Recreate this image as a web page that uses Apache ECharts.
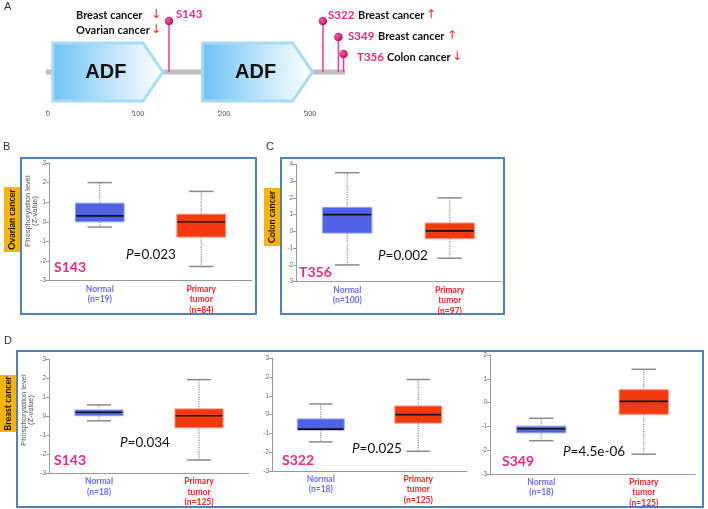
<!DOCTYPE html>
<html><head><meta charset="utf-8">
<script src="https://cdn.jsdelivr.net/npm/echarts@6/dist/echarts.min.js"></script>
<style>html,body{margin:0;padding:0;background:#fff}#c{width:708px;height:509px}</style>
</head><body><div id="c"></div>
<script>
// ---------- Panel A data (protein diagram) ----------
const proteinLength = 348;
const domainNames = ['ADF', 'ADF'];
const domainStarts = [8, 182];
const domainEnds = [136, 310];
const siteNames = ['S143', 'S322', 'S349', 'T356'];
const sitePositions = [143, 322, 340, 346];
const siteLevels = [89, 89, 73, 56];
const backboneLevel = 38;

// ---------- Boxplot data: [lower whisker, Q1, median, Q3, upper whisker] ----------
const groupNames = ['Normal', 'Primary tumor'];
const ovarianS143Normal = [-0.27, 0, 0.3, 0.95, 2.0];
const ovarianS143Tumor = [-2.28, -0.78, 0, 0.39, 1.55];
const ovarianS143Counts = [19, 84];
const colonT356Normal = [-2.0, -0.1, 1.0, 1.43, 3.5];
const colonT356Tumor = [-1.6, -0.43, 0.03, 0.5, 2.0];
const colonT356Counts = [100, 97];
const breastS143Normal = [-0.24, 0.03, 0.21, 0.33, 0.6];
const breastS143Tumor = [-2.3, -0.6, 0.03, 0.39, 1.93];
const breastS322Normal = [-1.45, -0.82, -0.77, -0.23, 0.57];
const breastS322Tumor = [-1.95, -0.45, 0, 0.46, 1.87];
const breastS349Normal = [-1.6, -1.27, -1.1, -0.99, -0.66];
const breastS349Tumor = [-2.17, -0.49, 0.05, 0.54, 1.4];
const breastCounts = [18, 125];
const yRangeB = [-3, 3];
const yRangeC = [-3, 4];
const yRangeD1 = [-3, 3];
const yRangeD2 = [-3, 3];
const yRangeD3 = [-3, 2];
const pValues = ['0.023', '0.002', '0.034', '0.025', '4.5e-06'];

// ---------- layout ----------
const FONT = 'Lato';
const boxPanels = [
  {grid: {left: 49, top: 163, width: 203, height: 117.6}, range: yRangeB, normal: ovarianS143Normal, tumor: ovarianS143Tumor, counts: ovarianS143Counts},
  {grid: {left: 296, top: 164.3, width: 205, height: 117.4}, range: yRangeC, normal: colonT356Normal, tumor: colonT356Tumor, counts: colonT356Counts},
  {grid: {left: 49, top: 359.3, width: 200, height: 114}, range: yRangeD1, normal: breastS143Normal, tumor: breastS143Tumor, counts: breastCounts},
  {grid: {left: 272, top: 358.3, width: 195, height: 112.7}, range: yRangeD2, normal: breastS322Normal, tumor: breastS322Tumor, counts: breastCounts},
  {grid: {left: 490, top: 355, width: 205, height: 119}, range: yRangeD3, normal: breastS349Normal, tumor: breastS349Tumor, counts: breastCounts}
];

const grids = [{left: 46, top: 10, width: proteinLength * 0.86, height: 100, outerBoundsMode: 'none'}];
const xAxes = [{
  type: 'value', gridIndex: 0, min: 0, max: proteinLength, interval: 100,
  axisLine: {show: false}, splitLine: {show: false}, position: 'bottom',
  axisTick: {show: true, length: 3, inside: false, lineStyle: {color: '#999', width: 1}},
  axisLabel: {show: true, showMaxLabel: false, fontSize: 7.5, color: '#555', fontFamily: 'Liberation Sans', align: 'left', margin: 0, padding: [0, 0, 0, 0]}
}];
const yAxes = [{type: 'value', gridIndex: 0, min: 0, max: 100, show: false}];

const fills = ['#5063e6', '#f5390f'];
const strokes = ['#8e9cf2', '#ff8d72'];

function boxRender(params, api) {
  const cat = api.value(0);
  const lo = api.coord([cat, api.value(1)]);
  const q1 = api.coord([cat, api.value(2)]);
  const md = api.coord([cat, api.value(3)]);
  const q3 = api.coord([cat, api.value(4)]);
  const hi = api.coord([cat, api.value(5)]);
  const band = api.size([1, 0])[0];
  const bw = band * 0.48, cw = band * 0.24;
  const x = lo[0];
  const wl = {stroke: '#8a8a8a', lineWidth: 1.2, lineDash: [1.2, 1.2]};
  const cap = {stroke: '#8a8a8a', lineWidth: 1.5};
  return {type: 'group', children: [
    {type: 'line', shape: {x1: x, y1: hi[1], x2: x, y2: q3[1]}, style: wl},
    {type: 'line', shape: {x1: x, y1: q1[1], x2: x, y2: lo[1]}, style: wl},
    {type: 'line', shape: {x1: x - cw / 2, y1: hi[1], x2: x + cw / 2, y2: hi[1]}, style: cap},
    {type: 'line', shape: {x1: x - cw / 2, y1: lo[1], x2: x + cw / 2, y2: lo[1]}, style: cap},
    {type: 'rect', shape: {x: x - bw / 2, y: q3[1], width: bw, height: q1[1] - q3[1]}, style: {fill: fills[cat], stroke: strokes[cat], lineWidth: 1}},
    {type: 'line', shape: {x1: x - bw / 2 + 0.5, y1: md[1], x2: x + bw / 2 - 0.5, y2: md[1]}, style: {stroke: '#111', lineWidth: 1.6}}
  ]};
}

const series = [];

// Panel A series
series.push({
  type: 'custom', xAxisIndex: 0, yAxisIndex: 0, silent: true, z: 1,
  data: [[0, proteinLength, backboneLevel]],
  encode: {x: [0, 1], y: 2},
  renderItem: function (params, api) {
    const a = api.coord([api.value(0), api.value(2)]);
    const b = api.coord([api.value(1), api.value(2)]);
    return {type: 'rect', shape: {x: a[0], y: a[1] - 2.5, width: b[0] - a[0], height: 5}, style: {fill: '#bdbdbd'}};
  }
});
series.push({
  type: 'custom', xAxisIndex: 0, yAxisIndex: 0, silent: true, z: 3,
  data: domainStarts.map((s, i) => [s, domainEnds[i], backboneLevel, domainNames[i]]),
  encode: {x: [0, 1], y: 2},
  renderItem: function (params, api) {
    const a = api.coord([api.value(0), api.value(2)]);
    const b = api.coord([api.value(1), api.value(2)]);
    const h = 29, sh = 20;
    const x0 = a[0], xt = b[0], yc = a[1], xs = xt - sh;
    return {type: 'group', children: [
      {type: 'polygon', shape: {points: [[x0, yc - h], [xs, yc - h], [xt, yc], [xs, yc + h], [x0, yc + h]]},
        style: {fill: new echarts.graphic.LinearGradient(0, 0, 1, 0, [{offset: 0, color: '#6cc2f4'}, {offset: 0.55, color: '#c0e5fa'}, {offset: 1, color: '#ffffff'}]),
          stroke: '#a6dbf7', lineWidth: 3}},
      {type: 'text', x: (x0 + xt) / 2 - 2, y: yc, style: {text: api.value(3), fontFamily: 'Liberation Sans', fontWeight: 'bold', fontSize: 20, fill: '#111', align: 'center', verticalAlign: 'middle'}}
    ]};
  }
});
series.push({
  type: 'custom', xAxisIndex: 0, yAxisIndex: 0, silent: true, z: 4,
  data: sitePositions.map((p, i) => [p, siteLevels[i], backboneLevel]),
  encode: {x: 0, y: [1, 2]},
  renderItem: function (params, api) {
    const top = api.coord([api.value(0), api.value(1)]);
    const bot = api.coord([api.value(0), api.value(2)]);
    return {type: 'group', children: [
      {type: 'line', shape: {x1: top[0], y1: top[1], x2: bot[0], y2: bot[1]}, style: {stroke: '#ff3399', lineWidth: 1.5}},
      {type: 'circle', shape: {cx: top[0], cy: top[1], r: 4.3},
        style: {fill: new echarts.graphic.RadialGradient(0.35, 0.35, 0.7, [{offset: 0, color: '#f25aa5'}, {offset: 1, color: '#b5105f'}])}}
    ]};
  }
});

// Box panels
boxPanels.forEach((p, k) => {
  const gi = k + 1;
  grids.push(Object.assign({outerBoundsMode: 'none'}, p.grid));
  const counts = p.counts;
  xAxes.push({
    type: 'category', gridIndex: gi, data: groupNames, boundaryGap: true,
    axisLine: {show: true, onZero: false, lineStyle: {color: '#9a9a9a', width: 1}},
    axisTick: {show: false},
    axisLabel: {
      interval: 0, margin: 3, fontSize: 8.5, lineHeight: 10.5,
      formatter: function (v, i) {
        const words = v.split(' ');
        const st = i === 0 ? 'n' : 't';
        return words.concat(['(n=' + counts[i] + ')']).map(w => '{' + st + '|' + w + '}').join('\n');
      },
      rich: {
        n: {color: '#6b6cf2', fontWeight: 'bold', fontSize: 8.5, fontFamily: FONT, lineHeight: 10.5},
        t: {color: '#ff2424', fontWeight: 'bold', fontSize: 8.5, fontFamily: FONT, lineHeight: 10.5}
      }
    }
  });
  yAxes.push({
    type: 'value', gridIndex: gi, min: p.range[0], max: p.range[1], interval: 1,
    axisLine: {show: true, onZero: false, lineStyle: {color: '#9a9a9a', width: 1}},
    axisTick: {show: true, length: 3, lineStyle: {color: '#9a9a9a'}},
    axisLabel: {fontSize: 6.5, color: '#666', margin: 3, fontFamily: 'Liberation Sans'},
    splitLine: {show: false}
  });
  series.push({
    type: 'custom', xAxisIndex: gi, yAxisIndex: gi, silent: true,
    encode: {x: 0, y: [1, 2, 3, 4, 5]},
    data: [[0].concat(p.normal), [1].concat(p.tumor)],
    renderItem: boxRender
  });
});

// ---------- graphic (frames and text) ----------
const G = [];
function T(x, y, text, st, extra) {
  G.push(Object.assign({type: 'text', x: x, y: y, silent: true, z: 10,
    style: Object.assign({text: text, fill: '#111', fontFamily: FONT, fontSize: 11, align: 'left', verticalAlign: 'middle'}, st || {})}, extra || {}));
}
function R(x, y, w, h, st) {
  G.push({type: 'rect', silent: true, z: 0, shape: {x: x, y: y, width: w, height: h}, style: st});
}
const PINK = '#f0287a', RED = '#ff1f1f';
// panel letters
T(4, 7, 'A', {fontFamily: 'Liberation Sans', fontSize: 11, fill: '#333'});
T(3, 147, 'B', {fontFamily: 'Liberation Sans', fontSize: 11, fill: '#333'});
T(266, 147, 'C', {fontFamily: 'Liberation Sans', fontSize: 11, fill: '#333'});
T(4, 341, 'D', {fontFamily: 'Liberation Sans', fontSize: 11, fill: '#333'});
// panel A annotations
const bold = {fontWeight: 'bold', fontSize: 11};
const SA = {fill: PINK, fontWeight: 'bold', fontSize: 11.5};
const ARW = {fill: RED, fontFamily: 'DejaVu Sans', fontSize: 12};
T(76, 15, 'Breast cancer', bold);
T(76, 30, 'Ovarian cancer', bold);
T(151, 15, '↓', ARW);
T(151, 30, '↓', ARW);
T(176, 14, siteNames[0], SA);
T(328, 15, siteNames[1], SA);
T(358, 15, 'Breast cancer', bold);
T(426, 15, '↑', ARW);
T(348, 36, siteNames[2], SA);
T(378, 36, 'Breast cancer', bold);
T(447, 36, '↑', ARW);
T(357, 57, siteNames[3], SA);
T(387, 57, 'Colon cancer', bold);
T(452, 57, '↓', ARW);
// frames
const FR = {fill: 'none', stroke: '#4f81bd', lineWidth: 2};
R(21, 158, 235, 156, FR);
R(281, 158, 223, 156, FR);
R(17, 351, 686, 156, FR);
// orange disease labels
const OR = {fill: '#f7b500'};
R(4, 187, 16, 65, OR);
T(12, 219.5, 'Ovarian cancer', {fontWeight: 'bold', fontSize: 9, align: 'center'}, {rotation: Math.PI / 2});
R(264, 188, 16, 58, OR);
T(272, 217, 'Colon cancer', {fontWeight: 'bold', fontSize: 9, align: 'center'}, {rotation: Math.PI / 2});
R(0, 375, 16, 57, OR);
T(8, 403.5, 'Breast cancer', {fontWeight: 'bold', fontSize: 9, align: 'center'}, {rotation: Math.PI / 2});
// y titles
const YT = {fontFamily: 'Liberation Sans', fontSize: 7.5, fill: '#555', align: 'center'};
T(28, 211, 'Phosphorylation level', YT, {rotation: Math.PI / 2});
T(35, 211, '(Z-value)', YT, {rotation: Math.PI / 2});
T(24, 410, 'Phosphorylation level', YT, {rotation: Math.PI / 2});
T(31, 410, '(Z-value)', YT, {rotation: Math.PI / 2});
// p values
const PV = {fontFamily: FONT, fontSize: 13.5, rich: {i: {fontStyle: 'italic', fontFamily: FONT, fontSize: 13.5, fill: '#111'}, r: {fontFamily: FONT, fontSize: 13.5, fill: '#111'}}};
const pPos = [[126, 255], [378, 256], [120, 443], [352, 449], [563, 452]];
pPos.forEach((q, i) => T(q[0], q[1], '{i|P}{r|=' + pValues[i] + '}', PV));
// site labels in box panels
const SL = {fill: PINK, fontWeight: 'bold', fontSize: 14};
T(54, 267, siteNames[0], SL);
T(299, 272, siteNames[3], SL);
T(54, 460, siteNames[0], SL);
T(282, 460, siteNames[1], SL);
T(502, 461, siteNames[2], SL);

const chart = echarts.init(document.getElementById('c'), null, {renderer: 'canvas'});
chart.setOption({
  animation: false,
  backgroundColor: '#ffffff',
  textStyle: {fontFamily: FONT},
  grid: grids, xAxis: xAxes, yAxis: yAxes, series: series, graphic: G
});
</script></body></html>
